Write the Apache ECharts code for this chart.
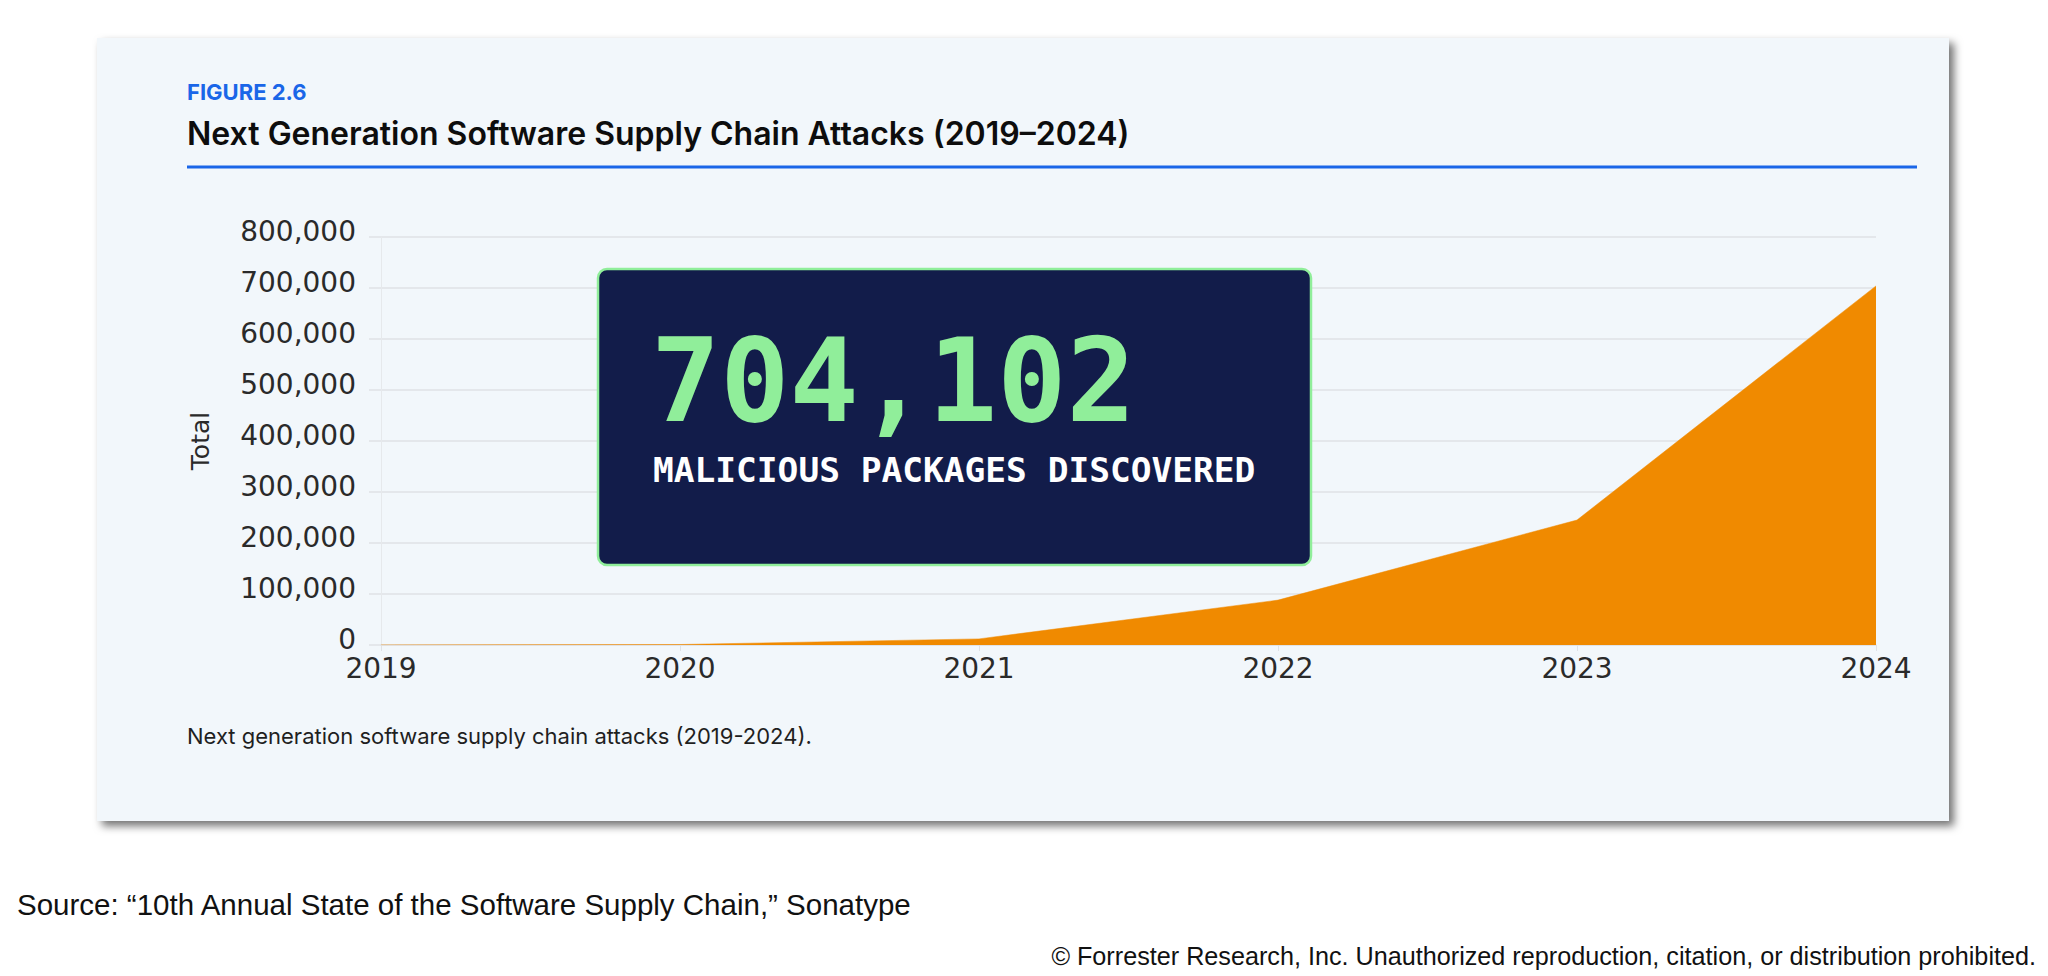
<!DOCTYPE html>
<html>
<head>
<meta charset="utf-8">
<title>Next Generation Software Supply Chain Attacks (2019–2024)</title>
<script src="https://cdn.jsdelivr.net/npm/echarts@6/dist/echarts.min.js"></script>
<style>
    html, body { margin: 0; padding: 0; background: #ffffff; }
    #main-chart { width: 2048px; height: 976px; }
</style>
</head>
<body>
<div id="main-chart"></div>
<script>
const years = ['2019', '2020', '2021', '2022', '2023', '2024'];
const maliciousPackages = [216, 929, 12000, 88000, 245032, 704102];
const yTicks = [0, 100000, 200000, 300000, 400000, 500000, 600000, 700000, 800000];

const headlineNumber = '704,102';
const headlineText = 'MALICIOUS PACKAGES DISCOVERED';

let mainChart;

document.addEventListener('DOMContentLoaded', () => {
    const chartDom = document.getElementById('main-chart');
    mainChart = echarts.init(chartDom, null, { renderer: 'svg' });
    renderChart();
});

function textEl(text, x, y, font, fill, align, extra) {
    return Object.assign({
        type: 'text',
        style: {
            text: text, x: x, y: y, font: font, fill: fill,
            textAlign: align, align: align,
            textVerticalAlign: 'middle', verticalAlign: 'middle'
        }
    }, extra || {});
}

function renderChart() {
    const orange = '#F08A00';
    const gridGray = '#DFE2E6';
    const blue = '#1A66E8';
    const labelFont = '"DejaVu Sans", sans-serif';

    const option = {
        animation: false,
        backgroundColor: '#ffffff',
        grid: { left: 381, right: 172, top: 237, bottom: 331 },
        xAxis: {
            type: 'category',
            data: years,
            boundaryGap: false,
            axisLine: { show: true, lineStyle: { color: gridGray, width: 1.5 } },
            axisTick: { show: true, length: 6, lineStyle: { color: gridGray, width: 1 } },
            axisLabel: {
                color: '#2a2a2a', fontSize: 28, fontFamily: labelFont,
                lineHeight: 22, margin: 12
            },
            splitLine: { show: false }
        },
        yAxis: {
            type: 'value',
            min: 0,
            max: yTicks[yTicks.length - 1],
            interval: yTicks[1] - yTicks[0],
            name: 'Total',
            nameLocation: 'middle',
            nameRotate: 90,
            nameGap: 168,
            nameTextStyle: { color: '#2a2a2a', fontSize: 25, fontFamily: labelFont },
            axisLine: { show: true, lineStyle: { color: '#E6E9EC', width: 1 } },
            axisTick: { show: true, length: 12, lineStyle: { color: gridGray, width: 1.5 } },
            axisLabel: {
                color: '#2a2a2a', fontSize: 28, fontFamily: labelFont, margin: 25,
                lineHeight: 12, verticalAlign: 'bottom',
                formatter: v => v.toLocaleString('en-US')
            },
            splitLine: { show: true, lineStyle: { color: gridGray, width: 1.5 } }
        },
        series: [{
            name: 'Malicious packages',
            type: 'line',
            data: maliciousPackages,
            symbol: 'none',
            smooth: false,
            lineStyle: { color: orange, width: 0.5 },
            areaStyle: { color: orange, opacity: 1 },
            z: 3
        }],
        graphic: [
            {
                type: 'rect', z: -10, silent: true,
                shape: { x: 97, y: 38, width: 1852, height: 783 },
                style: {
                    fill: '#F2F7FB',
                    shadowBlur: 8, shadowOffsetX: 5, shadowOffsetY: 5,
                    shadowColor: 'rgba(0,0,0,0.55)'
                }
            },
            textEl('FIGURE 2.6', 187, 92, '700 22px Inter, sans-serif', blue, 'left'),
            textEl('Next Generation Software Supply Chain Attacks (2019–2024)', 187, 133,
                '600 32px Inter, sans-serif', '#0d0d0d', 'left'),
            {
                type: 'line', silent: true,
                shape: { x1: 187, y1: 167, x2: 1917, y2: 167 },
                style: { stroke: blue, lineWidth: 3 }
            },
            {
                type: 'rect', z: 100, silent: true,
                shape: { x: 598, y: 269, width: 713, height: 296, r: 9 },
                style: { fill: '#121C4A', stroke: '#90EE9A', lineWidth: 2.5 }
            },
            textEl(headlineNumber, 651, 381, 'bold 115px "DejaVu Sans Mono", monospace',
                '#90EE9A', 'left', { z: 101 }),
            textEl(headlineText, 653, 470, 'bold 34.5px "DejaVu Sans Mono", monospace',
                '#ffffff', 'left', { z: 101 }),
            textEl('Next generation software supply chain attacks (2019-2024).', 187, 736,
                '22px Inter, sans-serif', '#1f1f1f', 'left'),
            textEl('Source: \u201C10th Annual State of the Software Supply Chain,\u201D Sonatype', 17, 904,
                '29.5px "Liberation Sans", Arial, sans-serif', '#111111', 'left'),
            textEl('\u00A9 Forrester Research, Inc. Unauthorized reproduction, citation, or distribution prohibited.',
                2036, 956, '25.2px "Liberation Sans", Arial, sans-serif', '#111111', 'right')
        ]
    };
    mainChart.setOption(option, true);
}
</script>
</body>
</html>
